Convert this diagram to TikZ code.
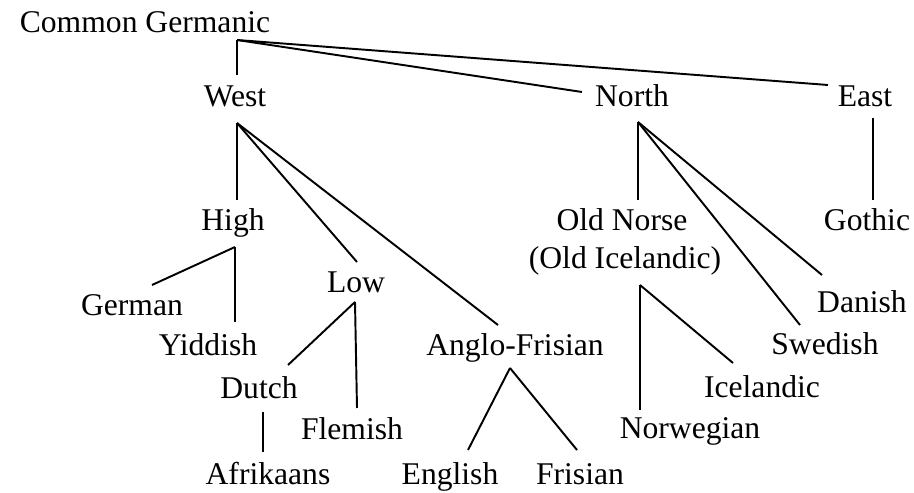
\documentclass[tikz,border=0pt]{standalone}
\usepackage{fontspec}
\setmainfont{Liberation Serif}
\begin{document}
\begin{tikzpicture}[x=0.02cm,y=-0.02cm,every path/.style={line width=1.1pt},
    lang/.style={anchor=base,inner sep=0pt,font=\fontsize{18}{20}\selectfont}]
  \useasboundingbox (0,0) rectangle (914,493);

  \node[lang] (CG) at (145,33) {Common Germanic};
  \node[lang] (West) at (235,107) {West};
  \node[lang] (North) at (632,107) {North};
  \node[lang] (East) at (865,107) {East};
  \node[lang] (High) at (233,231) {High};
  \node[lang] (ON) at (622,231) {Old Norse};
  \node[lang] (OI) at (625,269) {(Old Icelandic)};
  \node[lang,anchor=base east] (Gothic) at (911,231) {Gothic};
  \node[lang] (German) at (132,316) {German};
  \node[lang] (Low) at (356,293) {Low};
  \node[lang] (Danish) at (862,313) {Danish};
  \node[lang] (Yiddish) at (208,356) {Yiddish};
  \node[lang] (AF) at (515,356) {Anglo-Frisian};
  \node[lang] (Swedish) at (825,355) {Swedish};
  \node[lang] (Dutch) at (259,399) {Dutch};
  \node[lang] (Icelandic) at (762,398) {Icelandic};
  \node[lang] (Flemish) at (352,440) {Flemish};
  \node[lang] (Norwegian) at (690,439) {Norwegian};
  \node[lang] (Afrikaans) at (268,485) {Afrikaans};
  \node[lang] (English) at (450,485) {English};
  \node[lang] (Frisian) at (580,485) {Frisian};

  \coordinate (cg-f) at (237,40);
  \coordinate (west-t) at (237,75);
  \coordinate (north-t) at (582,92);
  \coordinate (east-t) at (828,85);
  \coordinate (west-f) at (237,123);
  \coordinate (high-t) at (237,200);
  \coordinate (low-t) at (357,262);
  \coordinate (af-t) at (498,325);
  \coordinate (high-f) at (235,247);
  \coordinate (german-t) at (152,285);
  \coordinate (yiddish-t) at (235,322);
  \coordinate (low-f) at (355,302);
  \coordinate (dutch-t) at (288,365);
  \coordinate (flemish-t) at (357,408);
  \coordinate (dutch-f) at (263,412);
  \coordinate (afrikaans-t) at (263,452);
  \coordinate (af-f) at (510,368);
  \coordinate (english-t) at (468,450);
  \coordinate (frisian-t) at (577,450);
  \coordinate (north-f) at (638,122);
  \coordinate (on-t) at (638,200);
  \coordinate (danish-t) at (822,275);
  \coordinate (swedish-t) at (800,325);
  \coordinate (oi-f) at (640,285);
  \coordinate (norwegian-t) at (640,410);
  \coordinate (icelandic-t) at (733,363);
  \coordinate (east-f) at (873,118);
  \coordinate (gothic-t) at (873,200);

  \draw (cg-f) -- (west-t);
  \draw (cg-f) -- (north-t);
  \draw (cg-f) -- (east-t);
  \draw (west-f) -- (high-t);
  \draw (west-f) -- (low-t);
  \draw (west-f) -- (af-t);
  \draw (high-f) -- (german-t);
  \draw (high-f) -- (yiddish-t);
  \draw (low-f) -- (dutch-t);
  \draw (low-f) -- (flemish-t);
  \draw (dutch-f) -- (afrikaans-t);
  \draw (af-f) -- (english-t);
  \draw (af-f) -- (frisian-t);
  \draw (north-f) -- (on-t);
  \draw (north-f) -- (danish-t);
  \draw (north-f) -- (swedish-t);
  \draw (oi-f) -- (norwegian-t);
  \draw (oi-f) -- (icelandic-t);
  \draw (east-f) -- (gothic-t);
\end{tikzpicture}
\end{document}
